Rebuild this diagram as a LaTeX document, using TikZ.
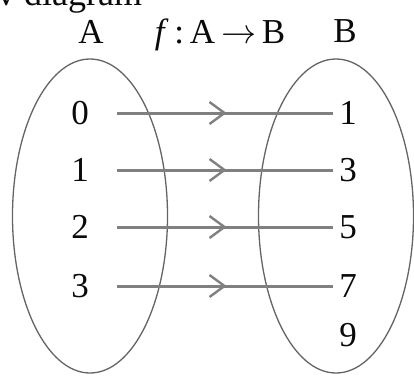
\documentclass[tikz,border=0pt]{standalone}
\usepackage{unicode-math}
\setmainfont{Liberation Serif}
\setmathfont{Latin Modern Math}
\usetikzlibrary{arrows.meta,shapes.geometric,decorations.markings}
\definecolor{setgray}{RGB}{100,100,100}
\definecolor{mapgray}{RGB}{128,128,128}
\definecolor{darktext}{RGB}{10,10,10}

\begin{document}
\begin{tikzpicture}[x=1pt,y=-1pt,
  setbox/.style={draw=setgray,line width=1.3pt,ellipse,inner sep=0pt,
                 minimum width=155pt,minimum height=314pt},
  elem/.style={font=\fontsize{35}{40}\selectfont,text=darktext,inner sep=0pt},
  maparrow/.style={draw=mapgray,line width=3pt,shorten <=28pt,shorten >=6pt,
                   postaction={decorate},
                   decoration={markings,mark=at position 0.55 with
                     {\arrow{Straight Barb[length=15pt,width=22pt,line width=2.4pt]}}}}
]
\useasboundingbox (0,0) rectangle (414,375);

\node[elem,anchor=base west] (caption) at (-3,5) {\fontsize{36}{42}\selectfont v diagram};

\node[setbox] (setA) at (90,216) {};
\node[setbox] (setB) at (336,216) {};

\node[elem] (nameA) at (91,32) {A};
\node[elem] (nameB) at (345,31) {B};
\node[elem] (fmap)  at (220,35) {\textit{f}\,:\,A\,$\rightarrow$\,B};

\node[elem] (a0) at (80,113) {0};
\node[elem] (a1) at (80,170) {1};
\node[elem] (a2) at (80,227) {2};
\node[elem] (a3) at (80,286) {3};

\node[elem] (b1) at (348,113) {1};
\node[elem] (b3) at (348,170) {3};
\node[elem] (b5) at (348,227) {5};
\node[elem] (b7) at (348,286) {7};
\node[elem] (b9) at (348,335) {9};

\draw[maparrow] (a0) -- (b1);
\draw[maparrow] (a1) -- (b3);
\draw[maparrow] (a2) -- (b5);
\draw[maparrow] (a3) -- (b7);
\end{tikzpicture}
\end{document}
